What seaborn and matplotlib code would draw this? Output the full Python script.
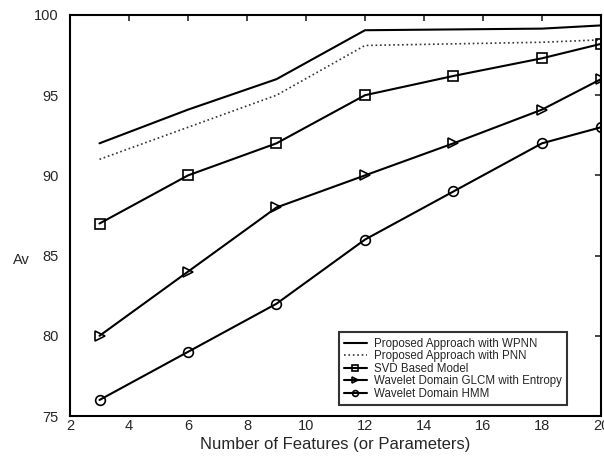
import matplotlib
matplotlib.use("Agg")
import matplotlib.pyplot as plt
import seaborn as sns
import pandas as pd

# number of features
features = [3, 6, 9, 12, 15, 18, 20]

wpnn = [92.0, 94.1, 96.0, 99.05, 99.1, 99.15, 99.35]
pnn = [91.0, 93.0, 95.0, 98.1, 98.2, 98.3, 98.45]
svd = [87.0, 90.0, 92.0, 95.0, 96.2, 97.3, 98.2]
glcm = [80.0, 84.0, 88.0, 90.0, 92.0, 94.1, 96.0]
hmm = [76.0, 79.0, 82.0, 86.0, 89.0, 92.0, 93.0]

labels = ["Proposed Approach with WPNN", "Proposed Approach with PNN",
          "SVD Based Model", "Wavelet Domain GLCM with Entropy",
          "Wavelet Domain HMM"]

sns.set_style("white")
plt.rcParams['font.family'] = ['Liberation Sans', 'DejaVu Sans']

fig = plt.figure(figsize=(6.04, 4.57), dpi=100)
ax = fig.add_axes([0.1159, 0.0897, 0.8791, 0.8775])

series = [wpnn, pnn, svd, glcm, hmm]
styles = [
    dict(linestyle='-', marker=None, color='black', linewidth=1.5),
    dict(linestyle=':', marker=None, color='#333333', linewidth=1.2),
    dict(linestyle='-', marker='s', color='black', linewidth=1.5),
    dict(linestyle='-', marker='>', color='black', linewidth=1.5),
    dict(linestyle='-', marker='o', color='black', linewidth=1.5),
]

for vals, lab, st in zip(series, labels, styles):
    df = pd.DataFrame({'x': features, 'y': vals})
    kw = dict(st)
    marker = kw.pop('marker')
    if marker:
        kw.update(marker=marker, markersize=7, markerfacecolor='none',
                  markeredgecolor='black', markeredgewidth=1.2)
    sns.lineplot(data=df, x='x', y='y', ax=ax, label=lab, **kw)

ax.set_xlim(2, 20)
ax.set_ylim(75, 100)
ax.set_xticks(range(2, 21, 2))
ax.set_yticks(range(75, 101, 5))
ax.tick_params(direction='in', top=True, right=True, length=4, width=1.2,
               labelsize=10.5)
ax.tick_params(axis='x', pad=2)
ax.tick_params(axis='y', pad=8)
for sp in ax.spines.values():
    sp.set_linewidth(1.5)
    sp.set_color('black')

ax.set_xlabel("Number of Features (or Parameters)", fontsize=12, labelpad=3)
ax.set_ylabel("Av", fontsize=10.5, rotation=0, va='center', ha='center')
ax.yaxis.set_label_coords(-0.091, 0.39)

leg = ax.legend(loc='lower right', bbox_to_anchor=(0.936, 0.027), fontsize=8.3,
                frameon=True, fancybox=False, edgecolor='black',
                handlelength=2.0, handletextpad=0.6, borderpad=0.45,
                borderaxespad=0.0, labelspacing=0.05, markerscale=0.6)
leg.get_frame().set_linewidth(1.5)

fig.savefig("out.png", dpi=100)
